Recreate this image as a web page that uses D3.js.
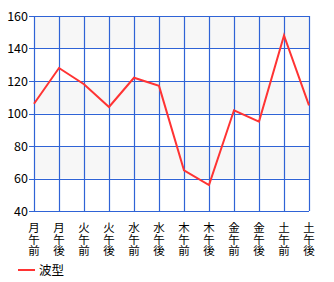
<!DOCTYPE html>
<html>
<head>
<meta charset="utf-8">
<script src="https://cdn.jsdelivr.net/npm/d3@7"></script>
<style>
  body { margin: 0; background: #fff; }
  svg { display: block; }
</style>
</head>
<body>
<svg></svg>
<script>
const width = 334;
const height = 282;

// categories and values
const categories = ["月午前", "月午後", "火午前", "火午後", "水午前", "水午後",
                    "木午前", "木午後", "金午前", "金午後", "土午前", "土午後"];
const waveValues = [106, 128, 118, 104, 122, 117, 65, 56, 102, 95, 148, 105];
const yTicks = [40, 60, 80, 100, 120, 140, 160];
const seriesName = "波型";

const margin = { left: 34, right: 25, top: 16, bottom: 71 };
const gridColor = "#2f63d6";
const lineColor = "#ff3333";
const font = "'Noto Sans CJK JP', 'DejaVu Sans', sans-serif";

const svg = d3.select('svg')
  .attr('width', width)
  .attr('height', height);

const x = d3.scalePoint()
  .domain(categories)
  .range([margin.left, width - margin.right]);

const y = d3.scaleLinear()
  .domain([40, 160])
  .range([height - margin.bottom, margin.top]);

// alternating bands
const bands = d3.pairs(yTicks);
svg.append('g')
  .selectAll('rect')
  .data(bands)
  .enter().append('rect')
    .attr('x', margin.left)
    .attr('width', x.range()[1] - margin.left)
    .attr('y', d => y(d[1]))
    .attr('height', d => y(d[0]) - y(d[1]))
    .attr('fill', (d, i) => i % 2 === 1 ? "#f7f7f7" : "#ffffff");

// horizontal grid + left ticks
svg.append('g')
  .selectAll('line')
  .data(yTicks)
  .enter().append('line')
    .attr('x1', margin.left - 5)
    .attr('x2', x.range()[1])
    .attr('y1', d => Math.round(y(d)) + 0.5)
    .attr('y2', d => Math.round(y(d)) + 0.5)
    .attr('stroke', gridColor)
    .attr('stroke-width', 1.2);

// vertical grid
svg.append('g')
  .selectAll('line')
  .data(categories)
  .enter().append('line')
    .attr('x1', d => Math.round(x(d)) + 0.5)
    .attr('x2', d => Math.round(x(d)) + 0.5)
    .attr('y1', y(160))
    .attr('y2', y(40))
    .attr('stroke', gridColor)
    .attr('stroke-width', 1.2);

// y tick labels
svg.append('g')
  .selectAll('text')
  .data(yTicks)
  .enter().append('text')
    .attr('x', margin.left - 6)
    .attr('y', d => y(d))
    .attr('dy', '0.36em')
    .attr('text-anchor', 'end')
    .attr('font-family', font)
    .attr('font-size', 12.5)
    .attr('fill', '#000')
    .text(d => d);

// x labels, written top to bottom
svg.append('g')
  .selectAll('text')
  .data(categories)
  .enter().append('text')
    .attr('x', d => x(d))
    .attr('y', y(40) + 11)
    .style('writing-mode', 'vertical-rl')
    .style('text-orientation', 'upright')
    .attr('font-family', font)
    .attr('font-size', 11.5)
    .attr('fill', '#000')
    .text(d => d);

// the series line
const line = d3.line()
  .x((d, i) => x(categories[i]))
  .y(d => y(d));

svg.append('path')
  .datum(waveValues)
  .attr('d', line)
  .attr('fill', 'none')
  .attr('stroke', lineColor)
  .attr('stroke-width', 2);

// legend
const legend = svg.append('g').attr('transform', 'translate(18,270)');
legend.append('line')
  .attr('x1', 0).attr('x2', 17)
  .attr('y1', 0).attr('y2', 0)
  .attr('stroke', lineColor)
  .attr('stroke-width', 2);
legend.append('text')
  .attr('x', 21)
  .attr('y', 0)
  .attr('dy', '0.36em')
  .attr('font-family', font)
  .attr('font-size', 12.5)
  .attr('fill', '#000')
  .text(seriesName);
</script>
</body>
</html>
